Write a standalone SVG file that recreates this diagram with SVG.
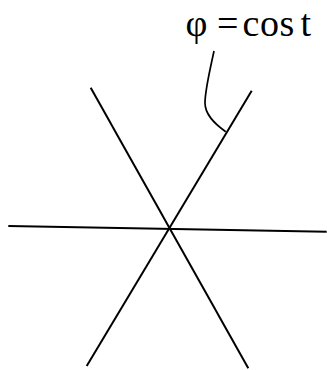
<svg xmlns="http://www.w3.org/2000/svg" width="327" height="370" viewBox="0 0 327 370">
<style>
.ln{stroke:#000;stroke-width:2;fill:none;stroke-linecap:butt}
.lbl{font-family:"Liberation Serif","Times New Roman",serif;font-size:38px;fill:#000}
</style>
<rect width="327" height="370" fill="#fff"/>
<g id="connectors">
<line class="ln" x1="8.3" y1="226" x2="326.7" y2="231.7"/>
<line class="ln" x1="251.7" y1="90.7" x2="86.7" y2="366"/>
<line class="ln" x1="90.7" y1="87.7" x2="248.3" y2="368.3"/>
<path class="ln" d="M214,51 C210,70 205,90 205,103 C205,115 215,124 225.7,131.7" style="stroke-width:1.7"/>
</g>
<g id="label">
<text class="lbl" y="36"><tspan x="185.5">φ</tspan><tspan x="217 242.5 260 279.5">=cos</tspan><tspan x="300.5">t</tspan></text>
</g>
</svg>
